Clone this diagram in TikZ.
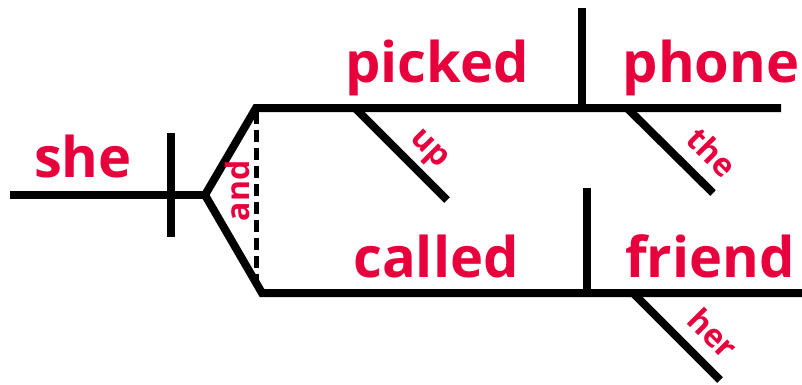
\documentclass[tikz,border=0pt]{standalone}
\usepackage{fontspec}
\setmainfont{Open Sans}
\definecolor{wordred}{RGB}{232,0,61}
\begin{document}
\begin{tikzpicture}[x=1pt,y=-1pt,
  diag/.style={line width=8pt,black},
  dashline/.style={line width=5pt,black,dash pattern=on 12pt off 6pt},
  bigword/.style={text=wordred,font=\bfseries\fontsize{56}{62}\selectfont,anchor=base,inner sep=0pt},
  smallword/.style={text=wordred,font=\bfseries\fontsize{32}{36}\selectfont,inner sep=0pt}]
\useasboundingbox (0,0) rectangle (802,384);
% coordinates
\coordinate (sl) at (10,195);
\coordinate (fork) at (205,195);
\coordinate (sdt) at (171,133);
\coordinate (sdb) at (171,237);
\coordinate (ul) at (256,108);
\coordinate (ur) at (781,108);
\coordinate (ll) at (262,293);
\coordinate (lr) at (802,293);
\coordinate (udt) at (582,8);
\coordinate (udb) at (582,108);
\coordinate (ldt) at (587,188);
\coordinate (ldb) at (587,293);
\coordinate (upa) at (355,108);
\coordinate (upb) at (447,200);
\coordinate (thea) at (627,108);
\coordinate (theb) at (713,193);
\coordinate (hera) at (633,293);
\coordinate (herb) at (720,380);
\coordinate (dt) at (256,112);
\coordinate (db) at (256,290);
% lines
\draw[diag] (sl) -- (fork);
\draw[diag] (sdt) -- (sdb);
\draw[diag,line join=miter] (ur) -- (ul) -- (fork) -- (ll) -- (lr);
\draw[dashline] (dt) -- (db);
\draw[diag] (udt) -- (udb);
\draw[diag] (ldt) -- (ldb);
\draw[diag] (upa) -- (upb);
\draw[diag] (thea) -- (theb);
\draw[diag] (hera) -- (herb);
% words
\node[bigword] (she) at (83,177) {she};
\node[bigword] (picked) at (437,82) {picked};
\node[bigword] (phone) at (711,82) {phone};
\node[bigword] (called) at (436,277) {called};
\node[bigword] (friend) at (710,277) {friend};
\node[smallword,rotate=90] (and) at (237,191) {and};
\node[smallword,rotate=-45] (up) at (428,151) {up};
\node[smallword,rotate=-45] (the) at (712,152) {the};
\node[smallword,rotate=-45] (her) at (713,333) {her};
\end{tikzpicture}
\end{document}
